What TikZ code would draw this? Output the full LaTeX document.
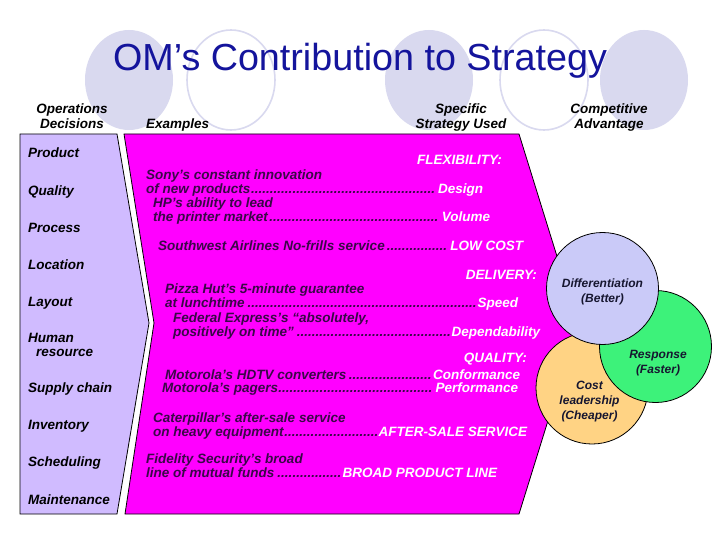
\documentclass[tikz,border=0pt]{standalone}
\usepackage{fontspec}
\setmainfont{Liberation Sans}
\usetikzlibrary{positioning}
\definecolor{OmTitle}{HTML}{14149C}
\definecolor{OmHalo}{HTML}{D9D9EF}
\definecolor{OmLilac}{HTML}{D0BBFF}
\definecolor{OmMagenta}{HTML}{FF00FF}
\definecolor{OmInk}{HTML}{3A0848}
\definecolor{OmNight}{HTML}{161630}
\definecolor{OmBlue}{HTML}{CACAF8}
\definecolor{OmGreen}{HTML}{3DF27A}
\definecolor{OmPeach}{HTML}{FFD384}
\newcommand{\omdots}[3]{\makebox[#1][l]{#2\leaders\hbox{.}\hfill\textcolor{white}{#3}}}

\begin{document}
\begin{tikzpicture}[x=1pt,y=-1pt,
    halo/.style={fill=OmHalo},
    ring/.style={draw=OmHalo,line width=1.6pt},
    head/.style={font=\fontsize{13.5}{14.5}\selectfont\bfseries\itshape,align=center,inner sep=0pt},
    item/.style={font=\fontsize{13.5}{14}\selectfont\bfseries\itshape,anchor=base west,align=left,inner sep=0pt},
    ex/.style={font=\fontsize{13.5}{14}\selectfont\bfseries\itshape,text=OmInk,anchor=base west,align=left,inner sep=0pt},
    tag/.style={font=\fontsize{13.5}{14}\selectfont\bfseries\itshape,text=white,anchor=base east,inner sep=0pt},
    adv/.style={circle,draw=black,line width=0.8pt,minimum size=112pt,inner sep=0pt},
    advtext/.style={font=\fontsize{12}{15}\selectfont\bfseries\itshape,text=OmNight,align=center,inner sep=0pt}
  ]
    \fill[white] (0,0) rectangle (720,540);
    \useasboundingbox (0,0) rectangle (720,540);
    % title backdrop
    \fill[halo] (129,80) ellipse [x radius=44pt,y radius=50pt];
    \draw[ring] (231,80) ellipse [x radius=44pt,y radius=50pt];
    \fill[halo] (429,80) ellipse [x radius=44pt,y radius=50pt];
    \draw[ring] (544,80) ellipse [x radius=44pt,y radius=50pt];
    \fill[halo] (644,80) ellipse [x radius=44pt,y radius=50pt];
    \node[font=\fontsize{37.7}{40}\selectfont,text=OmTitle,anchor=base,inner sep=0pt] (title) at (360,71) {OM’s Contribution to Strategy};

    \node[head,anchor=base] (hdops) at (72,128.5) {Operations\\Decisions};
    \node[head,anchor=base west] (hdex) at (146,128.5) {Examples};
    \node[head,anchor=base] (hdstrat) at (461,128.5) {Specific\\Strategy Used};
    \node[head,anchor=base] (hdadv) at (609,128.5) {Competitive\\Advantage};

    % the two bands
    \draw[fill=OmLilac,line width=0.8pt] (20,134) -- (117,134) -- (149,323) -- (117,514) -- (20,514) -- cycle;
    \draw[fill=OmMagenta,line width=0.8pt] (124,134) -- (519,134) -- (578,324) -- (519,514) -- (125,514) -- (154,323) -- cycle;

    \node[item] (prod) at (28,157.5) {Product};
    \node[item] (qual) at (28,196) {Quality};
    \node[item] (proc) at (28,232.5) {Process};
    \node[item] (loc) at (28,269.5) {Location};
    \node[item] (lay) at (28,306.5) {Layout};
    \node[item] (hr) at (28,356.5) {Human\\\hspace*{8pt}resource};
    \node[item] (supp) at (28,392.5) {Supply chain};
    \node[item] (inv) at (28,429.5) {Inventory};
    \node[item] (sched) at (28,466.5) {Scheduling};
    \node[item] (maint) at (28,504.5) {Maintenance};

    \node[tag] (flex) at (502,164.5) {FLEXIBILITY:};
    \node[ex] (sony) at (146,193.5) {Sony’s constant innovation\\\omdots{337pt}{of new products}{Design}};
    \node[ex] (hp) at (153,221.5) {HP’s ability to lead\\\omdots{337pt}{the printer market}{Volume}};
    \node[ex] (sw) at (158,251) {\omdots{365pt}{Southwest Airlines No-frills service}{LOW COST}};
    \node[tag] (deliv) at (537,279.5) {DELIVERY:};
    \node[ex] (pizza) at (165,307.5) {Pizza Hut’s 5-minute guarantee\\\omdots{353pt}{at lunchtime}{Speed}};
    \node[ex] (fedex) at (173,336.5) {Federal Express’s “absolutely,\\\omdots{367pt}{positively on time”}{Dependability}};
    \node[tag] (qualtag) at (527,362.5) {QUALITY:};
    \node[ex] (motohd) at (165,379.5) {\omdots{355pt}{Motorola’s HDTV converters}{Conformance}};
    \node[ex] (motopg) at (162,392.5) {\omdots{356pt}{Motorola’s pagers}{Performance}};
    \node[ex] (cat) at (153,436.5) {Caterpillar’s after-sale service\\\omdots{374pt}{on heavy equipment}{AFTER-SALE SERVICE}};
    \node[ex] (fid) at (146,477.5) {Fidelity Security’s broad\\\omdots{351pt}{line of mutual funds}{BROAD PRODUCT LINE}};

    % competitive advantage
    \node[adv,fill=OmPeach] (cost) at (592,388) {};
    \node[adv,fill=OmGreen] (resp) at (655.5,346.5) {};
    \node[adv,fill=OmBlue] (diff) at (602.5,288.5) {};
    \node[advtext] (difftxt) at ([yshift=-3pt]diff.center) {Differentiation\\(Better)};
    \node[advtext] (resptxt) at ([xshift=2.5pt,yshift=-17pt]resp.center) {Response\\(Faster)};
    \node[advtext] (costtxt) at ([xshift=-2.5pt,yshift=-14pt]cost.center) {Cost\\leadership\\(Cheaper)};
  \end{tikzpicture}
\end{document}
